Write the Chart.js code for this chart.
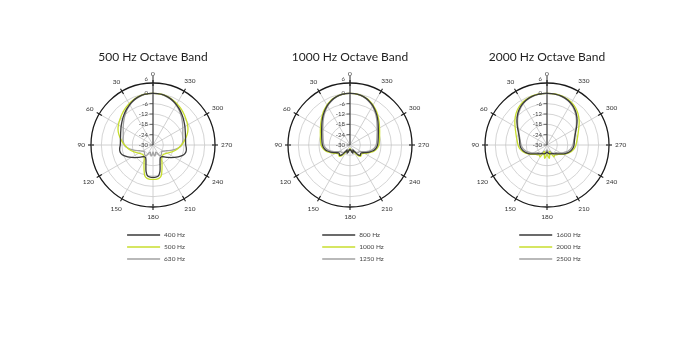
<!DOCTYPE html>
<html><head><meta charset="utf-8">
<script src="https://cdn.jsdelivr.net/npm/chart.js@4.4.1/dist/chart.umd.min.js"></script>
<style>
html,body{margin:0;padding:0;background:#fff;width:700px;height:355px;overflow:hidden;}
canvas{position:absolute;top:40px;}
</style></head><body>
<canvas id="c1" width="196" height="230" style="left:55px"></canvas>
<canvas id="c2" width="196" height="230" style="left:252px"></canvas>
<canvas id="c3" width="196" height="230" style="left:449px"></canvas>
<script>
// angles in degrees (0..355)
const angles = [0,5,10,15,20,25,30,35,40,45,50,55,60,65,70,75,80,85,90,95,100,105,110,115,120,125,130,135,140,145,150,155,160,165,170,175,180,185,190,195,200,205,210,215,220,225,230,235,240,245,250,255,260,265,270,275,280,285,290,295,300,305,310,315,320,325,330,335,340,345,350,355];
const angleTickLabels = ['0','30','60','90','120','150','180','210','240','270','300','330'];
const dbTicks = [-30,-24,-18,-12,-6,0,6];
const titles = ['500 Hz Octave Band','1000 Hz Octave Band','2000 Hz Octave Band'];
const bandLabels = [['400 Hz','500 Hz','630 Hz'],['800 Hz','1000 Hz','1250 Hz'],['1600 Hz','2000 Hz','2500 Hz']];

// levels in dB, one per angle above
const s400 = [0,0,-0.2,-0.6,-1.2,-2.0,-2.9,-3.9,-4.9,-5.9,-6.9,-7.8,-8.6,-9.4,-10.0,-10.5,-10.8,-11.0,-11.0,-10.6,-10.4,-10.8,-12.0,-13.8,-15.6,-17.3,-18.8,-20.1,-21.1,-21.6,-21.5,-20.3,-18.0,-14.3,-11.8,-11.3,-11.2,
  -11.3,-11.8,-14.3,-18.0,-20.3,-21.5,-21.6,-21.1,-20.1,-18.8,-17.3,-15.6,-13.8,-12.0,-10.8,-10.4,-10.6,-11.0,-11.0,-10.8,-10.5,-10.0,-9.4,-8.6,-7.8,-6.9,-5.9,-4.9,-3.9,-2.9,-2.0,-1.2,-0.6,-0.2,0];
const s500 = [0,0,-0.2,-0.5,-1.0,-1.6,-2.3,-3.0,-3.8,-4.6,-5.4,-6.1,-6.8,-7.6,-8.6,-9.8,-11.1,-12.3,-13.5,-14.7,-15.8,-17.0,-18.3,-19.5,-20.5,-21.2,-21.8,-21.9,-21.6,-21.0,-19.8,-17.6,-14.8,-11.5,-10.3,-10.0,-10.0,
  -10.0,-10.3,-11.5,-14.8,-17.6,-19.8,-21.0,-21.6,-21.9,-21.8,-21.2,-20.5,-19.5,-18.3,-17.0,-15.8,-14.7,-13.5,-12.3,-11.1,-9.8,-8.6,-7.6,-6.8,-6.1,-5.4,-4.6,-3.8,-3.0,-2.3,-1.6,-1.0,-0.5,-0.2,0];
const s630 = [0,0,-0.3,-0.8,-1.4,-2.2,-3.2,-4.3,-5.5,-6.7,-7.9,-9.0,-10.0,-10.9,-11.6,-12.1,-12.4,-12.8,-13.3,-14.5,-16.5,-18.5,-20.5,-22.0,-23.0,-23.5,-23.5,-23.0,-22.5,-22.5,-23.5,-25.0,-25.5,-24.5,-23.5,-24.5,-26.0,
  -24.5,-23.5,-24.5,-25.5,-25.0,-23.5,-22.5,-22.5,-23.0,-23.5,-23.5,-23.0,-22.0,-20.5,-18.5,-16.5,-14.5,-13.3,-12.8,-12.4,-12.1,-11.6,-10.9,-10.0,-9.0,-7.9,-6.7,-5.5,-4.3,-3.2,-2.2,-1.4,-0.8,-0.3,0];
const s800 = [0,-0.1,-0.3,-0.8,-1.5,-2.5,-3.6,-4.9,-6.2,-7.5,-8.8,-10.0,-11.0,-11.8,-12.5,-13.0,-13.4,-13.7,-14.0,-14.5,-15.3,-16.5,-18.0,-19.5,-21.0,-22.0,-22.0,-21.5,-22.5,-25.0,-26.5,-26.0,-25.0,-25.5,-27.0,-27.5,-27.0,
  -27.5,-27.0,-25.5,-25.0,-26.0,-26.5,-25.0,-22.5,-21.5,-22.0,-22.0,-21.0,-19.5,-18.0,-16.5,-15.3,-14.5,-14.0,-13.7,-13.4,-13.0,-12.5,-11.8,-11.0,-10.0,-8.8,-7.5,-6.2,-4.9,-3.6,-2.5,-1.5,-0.8,-0.3,-0.1];
const s1000 = [0,-0.1,-0.3,-0.7,-1.3,-2.2,-3.2,-4.4,-5.6,-6.9,-8.1,-9.2,-10.2,-11.0,-11.7,-12.2,-12.6,-12.9,-13.2,-13.8,-14.6,-15.8,-17.3,-18.8,-20.2,-21.3,-21.5,-21.0,-21.5,-23.5,-25.5,-26.0,-26.0,-26.5,-27.0,-27.5,-28.0,
  -27.5,-27.0,-26.5,-26.0,-26.0,-25.5,-23.5,-21.5,-21.0,-21.5,-21.3,-20.2,-18.8,-17.3,-15.8,-14.6,-13.8,-13.2,-12.9,-12.6,-12.2,-11.7,-11.0,-10.2,-9.2,-8.1,-6.9,-5.6,-4.4,-3.2,-2.2,-1.3,-0.7,-0.3,-0.1];
const s1250 = [0,-0.1,-0.4,-0.9,-1.7,-2.8,-4.0,-5.4,-6.8,-8.2,-9.6,-10.8,-11.8,-12.6,-13.3,-13.8,-14.2,-14.5,-14.8,-15.4,-16.3,-17.6,-19.2,-20.8,-22.3,-23.3,-23.5,-23.5,-24.5,-26.0,-27.0,-26.5,-25.5,-26.0,-27.0,-27.5,-27.5,
  -27.5,-27.0,-26.0,-25.5,-26.5,-27.0,-26.0,-24.5,-23.5,-23.5,-23.3,-22.3,-20.8,-19.2,-17.6,-16.3,-15.4,-14.8,-14.5,-14.2,-13.8,-13.3,-12.6,-11.8,-10.8,-9.6,-8.2,-6.8,-5.4,-4.0,-2.8,-1.7,-0.9,-0.4,-0.1];
const s1600 = [0,0,-0.1,-0.3,-0.7,-1.3,-2.1,-3.1,-4.3,-5.7,-7.2,-8.8,-10.3,-11.6,-12.6,-13.3,-13.8,-14.1,-14.3,-14.6,-15.2,-16.0,-17.0,-18.3,-19.7,-21.0,-22.0,-22.8,-23.3,-23.8,-24.3,-24.5,-24.5,-24.8,-25.0,-25.5,-26.0,
  -25.5,-25.0,-24.8,-24.5,-24.5,-24.3,-23.8,-23.3,-22.8,-22.0,-21.0,-19.7,-18.3,-17.0,-16.0,-15.2,-14.6,-14.3,-14.1,-13.8,-13.3,-12.6,-11.6,-10.3,-8.8,-7.2,-5.7,-4.3,-3.1,-2.1,-1.3,-0.7,-0.3,-0.1,0];
const s2000 = [0,0,0,-0.2,-0.5,-0.9,-1.5,-2.3,-3.3,-4.5,-5.8,-7.2,-8.6,-9.8,-10.8,-11.6,-12.3,-12.8,-13.2,-13.7,-14.4,-15.3,-16.5,-17.8,-19.2,-20.5,-21.5,-22.0,-22.5,-22.5,-22.0,-24.5,-26.0,-24.0,-22.2,-23.5,-25.0,
  -23.5,-22.2,-24.0,-26.0,-24.5,-22.0,-22.5,-22.5,-22.0,-21.5,-20.5,-19.2,-17.8,-16.5,-15.3,-14.4,-13.7,-13.2,-12.8,-12.3,-11.6,-10.8,-9.8,-8.6,-7.2,-5.8,-4.5,-3.3,-2.3,-1.5,-0.9,-0.5,-0.2,0,0];
const s2500 = [0,0,-0.2,-0.5,-0.9,-1.5,-2.4,-3.5,-4.8,-6.2,-7.7,-9.2,-10.6,-11.8,-12.8,-13.6,-14.2,-14.6,-15.0,-15.5,-16.2,-17.1,-18.2,-19.5,-20.8,-22.0,-23.0,-23.5,-23.5,-24.0,-25.0,-26.0,-25.0,-24.5,-25.5,-27.0,-27.0,
  -27.0,-25.5,-24.5,-25.0,-26.0,-25.0,-24.0,-23.5,-23.5,-23.0,-22.0,-20.8,-19.5,-18.2,-17.1,-16.2,-15.5,-15.0,-14.6,-14.2,-13.6,-12.8,-11.8,-10.6,-9.2,-7.7,-6.2,-4.8,-3.5,-2.4,-1.5,-0.9,-0.5,-0.2,0];

const seriesSets = [[s400,s500,s630],[s800,s1000,s1250],[s1600,s2000,s2500]];
const colors = ['#3a3a3a','#c8de2e','#a2a2a2'];
const FONT = 'Lato, "Open Sans", sans-serif';

// Chart.js radar goes clockwise; angles in the reference grow counter-clockwise.
const n = angles.length;
const order = angles.map((a, i) => (n - i) % n);
const chartLabels = order.map(k => angles[k]);

const polarDecor = {
  id: 'polarDecor',
  afterDraw(chart) {
    const s = chart.scales.r;
    const ctx = chart.ctx;
    const cx = s.xCenter, cy = s.yCenter, R = s.drawingArea;
    ctx.save();
    ctx.strokeStyle = '#2a2a2a';
    ctx.lineWidth = 1;
    ctx.beginPath(); ctx.moveTo(cx, cy); ctx.lineTo(cx, cy - R - 7); ctx.stroke();
    ctx.font = '6.5px ' + FONT;
    ctx.fillStyle = '#333';
    ctx.textAlign = 'center';
    ctx.textBaseline = 'middle';
    chart.data.labels.forEach((lab, i) => {
      if (lab % 30 !== 0) return;
      const p1 = s.getPointPosition(i, R - 3);
      const p2 = s.getPointPosition(i, R + 3);
      ctx.strokeStyle = '#1a1a1a';
      ctx.lineWidth = 1.1;
      ctx.beginPath(); ctx.moveTo(p1.x, p1.y); ctx.lineTo(p2.x, p2.y); ctx.stroke();
      const txt = angleTickLabels[lab / 30];
      const w = ctx.measureText(txt).width;
      const th = s.getIndexAngle(i);
      const d = R + 6 + Math.abs(Math.sin(th)) * w / 2 + Math.abs(Math.cos(th)) * 3.5;
      const p = s.getPointPosition(i, d);
      ctx.fillText(txt, p.x, p.y);
    });
    ctx.font = '6px ' + FONT;
    ctx.textAlign = 'right';
    ctx.fillStyle = '#444';
    s.ticks.forEach(t => {
      const y = cy - s.getDistanceFromCenterForValue(t.value);
      if (t.value < 6) {
        ctx.strokeStyle = '#444'; ctx.lineWidth = 0.8;
        ctx.beginPath(); ctx.moveTo(cx - 3.5, y); ctx.lineTo(cx, y); ctx.stroke();
      }
      ctx.fillText(String(t.value), cx - 5, t.value === 6 ? y - 4 : y);
    });
    const ds = chart.data.datasets;
    ctx.font = '6.5px ' + FONT;
    ctx.textAlign = 'left';
    const tw = Math.max(...ds.map(d => ctx.measureText(d.label).width));
    const blockW = 33 + 4 + tw;
    const x0 = cx + 3 - blockW / 2;
    ds.forEach((d, k) => {
      const y = cy + 90 + k * 12;
      ctx.strokeStyle = d.borderColor; ctx.lineWidth = 1.6;
      ctx.beginPath(); ctx.moveTo(x0, y); ctx.lineTo(x0 + 33, y); ctx.stroke();
      ctx.fillStyle = '#444';
      ctx.fillText(d.label, x0 + 37, y);
    });
    ctx.restore();
  }
};

function makeChart(id, k) {
  const datasets = seriesSets[k].map((vals, j) => ({
    label: bandLabels[k][j],
    data: order.map(idx => vals[idx]),
    borderColor: colors[j],
    backgroundColor: 'transparent',
    borderWidth: 1.3,
    pointRadius: 0,
    fill: false,
    tension: 0.25
  }));
  return new Chart(document.getElementById(id), {
    type: 'radar',
    data: { labels: chartLabels, datasets },
    options: {
      responsive: false,
      animation: false,
      devicePixelRatio: 1,
      layout: { padding: { top: 0, bottom: 63, left: 0, right: 0 } },
      plugins: {
        legend: { display: false },
        tooltip: { enabled: false },
        title: {
          display: true, text: titles[k], color: '#1e1e1e',
          font: { family: FONT, size: 12, weight: 'normal', lineHeight: 1.25 },
          padding: { top: 10, bottom: 18 }
        }
      },
      scales: {
        r: {
          min: dbTicks[0], max: dbTicks[dbTicks.length - 1],
          ticks: { stepSize: 6, display: false },
          pointLabels: { display: false },
          grid: {
            circular: true,
            color: c => (c.tick && c.tick.value === 6) ? '#1a1a1a' : '#c9c9c9',
            lineWidth: c => (c.tick && c.tick.value === 6) ? 1.3 : 0.8
          },
          angleLines: {
            display: true,
            color: c => (c.index % 6 === 0) ? '#c4c4c4' : 'rgba(0,0,0,0)',
            lineWidth: c => (c.index % 6 === 0) ? 0.8 : 0
          }
        }
      }
    },
    plugins: [polarDecor]
  });
}
makeChart('c1', 0);
makeChart('c2', 1);
makeChart('c3', 2);
</script>
</body></html>
